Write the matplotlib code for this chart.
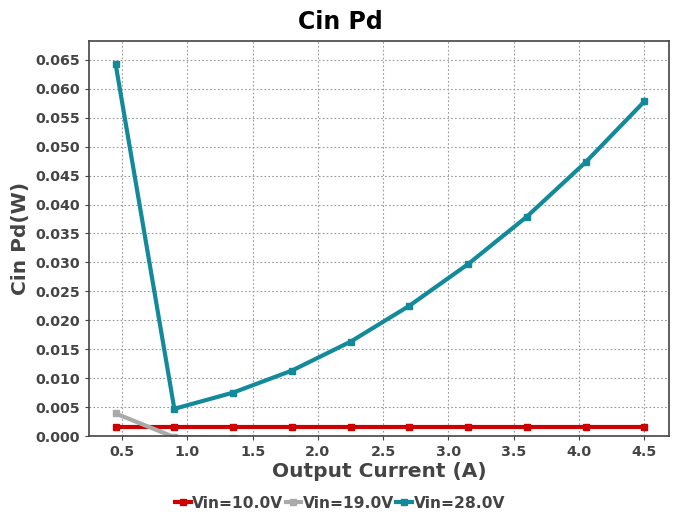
import numpy as np
import matplotlib.pyplot as plt

current = [0.45, 0.9, 1.35, 1.8, 2.25, 2.7, 3.15, 3.6, 4.05, 4.5]
pd_10v = [0.0016, 0.0016, 0.0016, 0.0016, 0.0016, 0.0016, 0.0016, 0.0016, 0.0016, 0.0016]
pd_19v = [0.0039, -0.0002, -0.0003, -0.0006, -0.0009, -0.0012, -0.0015, -0.0018, -0.0021, -0.0024]
pd_28v = [0.0643, 0.0047, 0.0075, 0.0113, 0.0163, 0.0225, 0.0297, 0.0379, 0.0473, 0.0578]
labels = ["Vin=10.0V", "Vin=19.0V", "Vin=28.0V"]
colors = ["#cc0000", "#aaaaaa", "#138a9a"]

plt.rcParams['font.family'] = 'DejaVu Sans'
plt.rcParams['font.weight'] = 'bold'

fig, ax = plt.subplots(figsize=(6.8, 5.16), dpi=100)
fig.subplots_adjust(left=0.131, right=0.984, top=0.92, bottom=0.155)

for y, lab, c in zip([pd_10v, pd_19v, pd_28v], labels, colors):
    ax.plot(current, y, color=c, lw=3, marker='s', markersize=4, label=lab)

ax.set_xlim(0.247, 4.69)
ax.set_ylim(0, 0.0682)
ax.set_xticks(np.arange(0.5, 4.51, 0.5))
ax.set_yticks(np.arange(0, 0.0651, 0.005))
ax.yaxis.set_major_formatter(plt.FormatStrFormatter('%.3f'))
ax.grid(True, linestyle=(0, (1.5, 2)), color='#999999', linewidth=0.8)
ax.tick_params(colors='#444444', labelsize=10.3, length=3)
for lbl in ax.get_xticklabels() + ax.get_yticklabels():
    lbl.set_fontweight('bold')
for s in ax.spines.values():
    s.set_color('#444444')
    s.set_linewidth(1.2)

fig.suptitle("Cin Pd", x=0.5, y=0.98, fontsize=17, fontweight='bold', color='black')
ax.set_xlabel("Output Current (A)", fontsize=14.5, fontweight='bold', color='#444444', labelpad=2)
ax.set_ylabel("Cin Pd(W)", fontsize=14.5, fontweight='bold', color='#444444')

fig.legend(loc='center', bbox_to_anchor=(0.5, 0.025), ncol=3, frameon=False,
           fontsize=11.2, handlelength=1.0, columnspacing=0.15, handletextpad=0.1,
           labelcolor='#444444')

fig.savefig("out.png", dpi=100)
